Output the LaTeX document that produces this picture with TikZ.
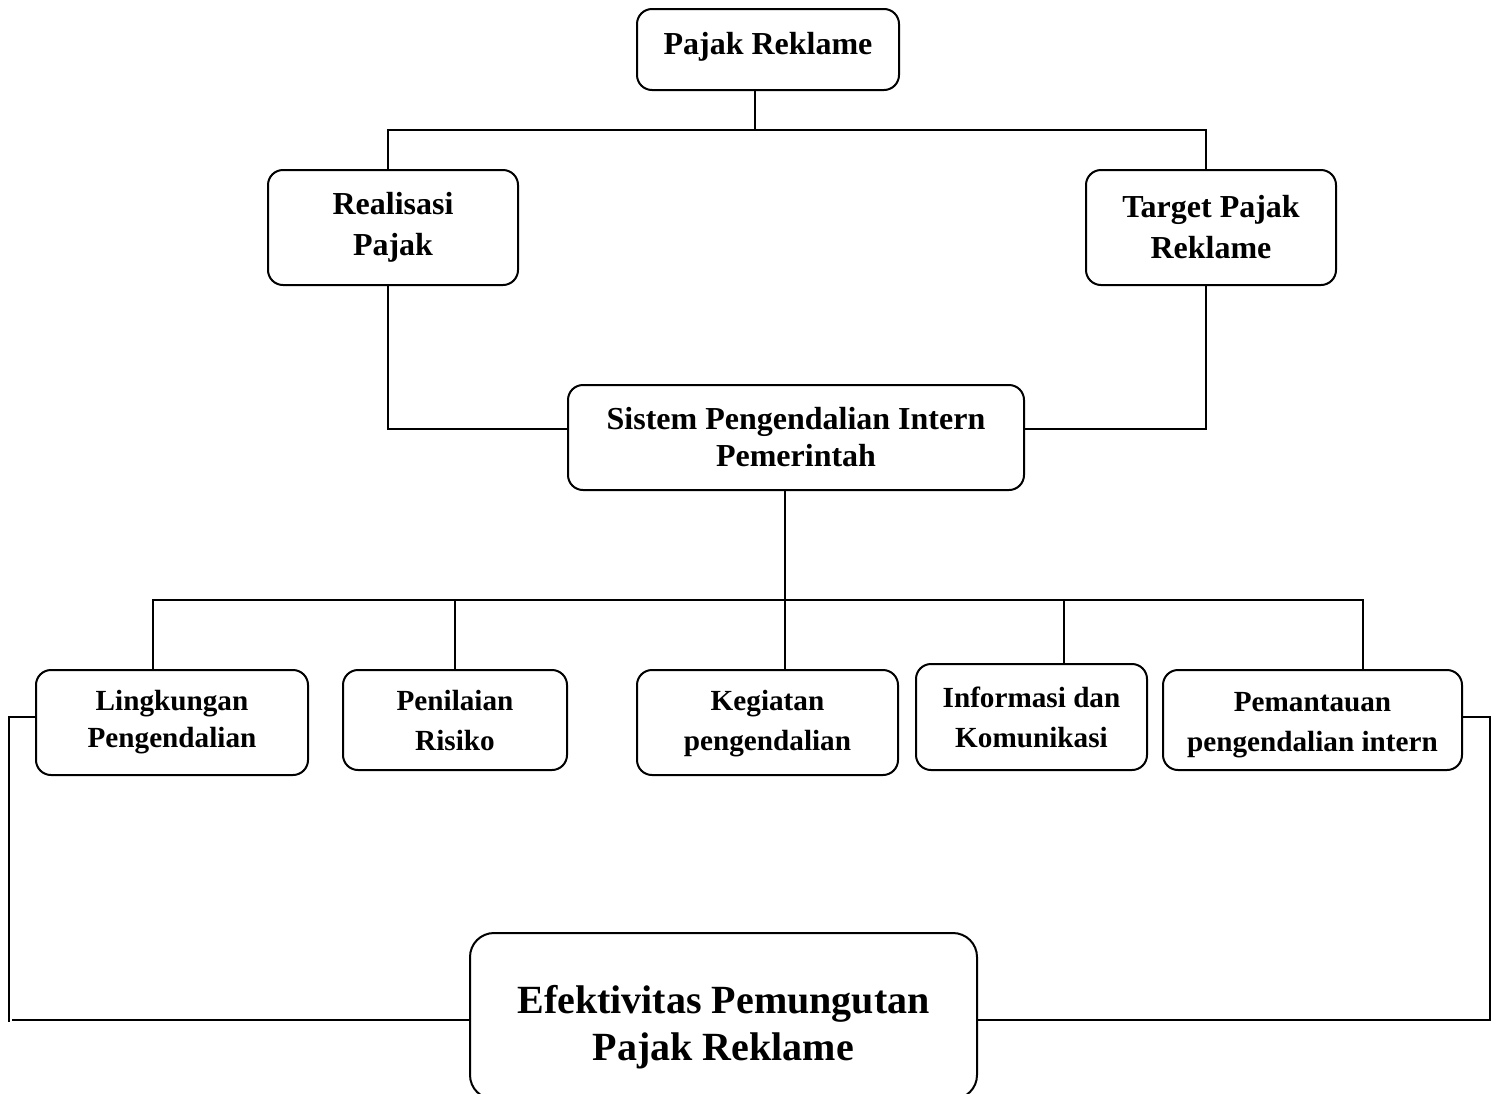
\documentclass[tikz,border=0pt]{standalone}
\usepackage{fontspec}
\setmainfont{Liberation Serif}
\begin{document}
\begin{tikzpicture}[x=0.5pt,y=-0.5pt,
  box/.style={draw, line width=1pt, rounded corners=7.5pt, inner sep=0pt, align=center},
  big/.style={font=\fontsize{16}{20.5}\selectfont\bfseries},
  small/.style={font=\fontsize{14.6}{20}\selectfont\bfseries},
  huge/.style={font=\fontsize{20}{23.5}\selectfont\bfseries},
  conn/.style={line width=1pt}]
\useasboundingbox (0,0) rectangle (1499,1093);
\clip (0,0) rectangle (1499,1093);
% nodes
\node[box, big, minimum width=131pt, minimum height=40.5pt] (top) at (768,49.5) {\rule[-6.5pt]{0pt}{1pt}Pajak Reklame};
\node[box, big, minimum width=125pt, minimum height=57.5pt] (real) at (393,227.5) {Realisasi\\Pajak};
\node[box, big, minimum width=125pt, minimum height=57.5pt] (targ) at (1211,227.5) {Target Pajak\\Reklame};
\node[box, font=\fontsize{16}{18.5}\selectfont\bfseries, minimum width=228pt, minimum height=52.5pt] (sis) at (796,437.5) {Sistem Pengendalian Intern\\Pemerintah};
\node[box, font=\fontsize{14.6}{18.5}\selectfont\bfseries, minimum width=136pt, minimum height=52.5pt] (ling) at (172,722.5) {Lingkungan\\Pengendalian};
\node[box, small, minimum width=112pt, minimum height=50pt] (pen) at (455,720) {Penilaian\\Risiko};
\node[box, small, minimum width=130.5pt, minimum height=52.5pt] (keg) at (767.5,722.5) {\rule{0pt}{11pt}Kegiatan\\pengendalian};
\node[box, small, minimum width=115.5pt, minimum height=53pt] (inf) at (1031.5,717) {Informasi dan\\Komunikasi};
\node[box, small, minimum width=149.5pt, minimum height=50pt] (pem) at (1312.5,720) {\rule{0pt}{15.2pt}Pemantauan\\pengendalian intern};
\node[box, huge, rounded corners=12pt, minimum width=253.5pt, minimum height=83pt] (eff) at (723.5,1016) {\rule{0pt}{25pt}Efektivitas Pemungutan\\Pajak Reklame};
% junction coordinates
\coordinate (j0) at (755,130);
\coordinate (jl) at (388,130);
\coordinate (jr) at (1206,130);
\coordinate (hy) at (0,429);
\coordinate (b0) at (785,600);
\coordinate (b1) at (153,600);
\coordinate (b2) at (455,600);
\coordinate (b4) at (1064,600);
\coordinate (b5) at (1363,600);
\coordinate (lt) at (9,717);
\coordinate (lb) at (9,1022);
\coordinate (lb2) at (12,1020);
\coordinate (rt) at (1490,717);
\coordinate (rb) at (1490,1020);
% connectors
\draw[conn] (top.south -| j0) -- (j0);
\draw[conn] (real.north -| jl) |- (jr) -- (targ.north -| jr);
\draw[conn] (real.south -| jl) |- (sis.west |- hy);
\draw[conn] (targ.south -| jr) |- (sis.east |- hy);
\draw[conn] (sis.south -| b0) -- (b0);
\draw[conn] (ling.north -| b1) |- (b5) -- (pem.north -| b5);
\draw[conn] (b2) -- (pen.north -| b2);
\draw[conn] (b0) -- (keg.north -| b0);
\draw[conn] (b4) -- (inf.north -| b4);
\draw[conn] (ling.west |- lt) -- (lt) -- (lb);
\draw[conn] (lb2) -- (eff.west |- lb2);
\draw[conn] (pem.east |- rt) -| (rb) -- (eff.east |- rb);
\end{tikzpicture}
\end{document}
